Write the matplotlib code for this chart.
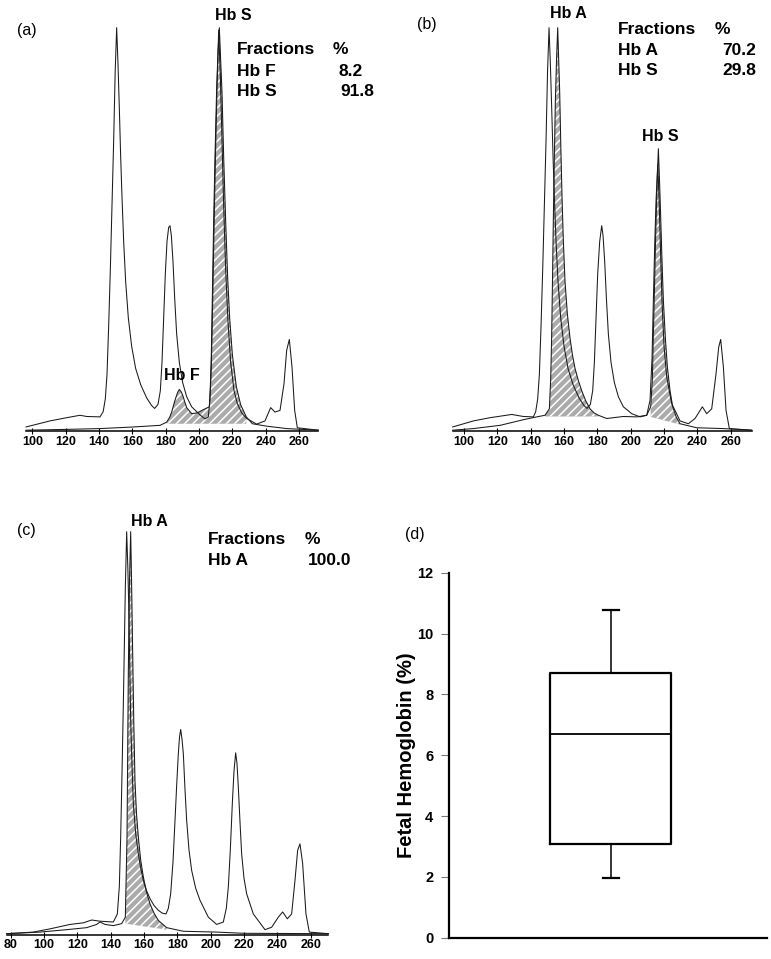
import matplotlib
matplotlib.use('Agg')
import matplotlib.pyplot as plt
import numpy as np

plt.rcParams['font.family'] = ['Liberation Sans', 'DejaVu Sans']
plt.rcParams['hatch.linewidth'] = 1.1

# ---- panel (a): HbS/HbF sample, traces ----
a_ref_x = [96.2, 110.6, 120.6, 128.6, 132.6, 140.6, 142.5, 143.8, 144.8, 145.8, 146.8, 147.8, 148.8,
           149.7, 150.6, 151.4, 152.2, 153.0, 153.8, 154.8, 156.0, 157.6, 159.6, 162.0, 165.0, 168.6,
           171.6, 173.4, 175.4, 176.8, 177.8, 178.8, 179.8, 180.8, 181.8, 182.6, 183.4, 184.4, 185.4,
           186.6, 188.2, 190.2, 192.6, 195.6, 200.6, 203.6, 205.6, 206.6, 207.4, 208.2, 209.0, 209.8,
           210.8, 211.8, 212.8, 213.8, 214.8, 216.0, 217.4, 219.0, 221.0, 223.0, 225.6, 228.6, 234.6,
           239.6, 243.0, 245.6, 248.6, 251.0, 252.6, 254.2, 255.8, 257.4, 259.0, 271.6]
a_ref_y = [1.0, 2.5, 3.3, 3.9, 3.6, 3.5, 4.8, 8, 14, 26, 40, 56, 72,
           89, 100, 91, 80, 68, 58, 47, 37, 28, 21, 15.5, 11.5, 8.2,
           6.3, 5.6, 6.6, 10, 17, 28, 39, 47, 50.5, 50.9, 48.5, 42, 33,
           24, 17, 12, 8.5, 6, 4, 3, 3.5, 8, 16, 32, 50, 67,
           85, 99.4, 88, 72, 56, 40, 27, 17, 10, 6.8, 4.5, 3.1, 1.7,
           2.5, 5.8, 4.7, 5.1, 11.7, 20, 22.7, 15.9, 5.1, 0.8, 0.2]
a_hb_x = [96.2, 120.6, 140.6, 160.6, 176.6, 180.6, 182.4, 183.6, 185.0, 186.2, 187.2, 188.2, 189.2,
          190.2, 191.4, 192.6, 195.6, 199.0, 202.6, 206.2, 206.8, 207.4, 208.0, 208.8, 209.6, 210.6,
          211.4, 212.2, 213.0, 213.8, 214.8, 216.0, 217.2, 218.4, 220.0, 222.4, 225.0, 228.4, 232.0,
          240.6, 252.6, 271.6]
a_hb_y = [0.2, 0.4, 0.6, 1.0, 1.4, 2.2, 3.4, 4.7, 6.8, 8.4, 9.6, 10.3, 9.8,
          8.9, 7.3, 5.8, 4.3, 4.5, 5.3, 6.0, 11, 19, 33, 52, 68, 85,
          94, 100, 92, 84, 68, 52, 38, 28, 19, 11, 6.5, 3.5, 1.8,
          1.2, 0.6, 0.2]
a_shade = [(180.6, 228.4, 1.8, 1.8)]
a_fractions = ['Hb F', 'Hb S']
a_percent = ['8.2', '91.8']

# ---- panel (b): HbA/HbS sample ----
b_ref_x = [93.2, 105.6, 115.6, 128.6, 135.6, 141.6, 143.0, 144.2, 145.2, 146.2, 147.2, 148.2, 149.2,
           150.1, 151.0, 151.8, 152.6, 153.4, 154.2, 155.2, 156.4, 158.0, 160.0, 162.4, 165.4, 169.0,
           172.0, 173.8, 175.8, 177.2, 178.2, 179.2, 180.2, 181.4, 182.6, 183.4, 184.4, 185.4, 186.6,
           188.2, 190.2, 192.6, 195.6, 200.6, 205.6, 209.6, 211.6, 212.8, 213.6, 214.4, 215.2, 216.2,
           217.0, 217.8, 218.8, 220.0, 221.6, 224.6, 229.6, 234.6, 238.6, 243.0, 245.6, 248.6, 251.2,
           252.8, 254.0, 255.6, 257.2, 259.2, 272.6]
b_ref_y = [1.0, 2.5, 3.3, 4.1, 3.6, 3.5, 4.8, 8, 14, 26, 40, 56, 72,
           89, 100, 91, 80, 68, 58, 47, 37, 28, 21, 15.5, 11.5, 8.2,
           6.3, 5.6, 6.6, 10, 17, 28, 39, 47, 50.9, 48.5, 42, 33, 24,
           17, 12, 8.5, 6, 4.3, 3.5, 3.9, 7.6, 18, 32.4, 46, 57, 66,
           58, 46, 32, 21, 13.4, 6.8, 2.5, 1.8, 3.1, 6.0, 4.3, 5.5, 14.2,
           20.8, 22.7, 15.9, 5.1, 0.6, 0.2]
b_hb_x = [93.2, 105.6, 121.6, 135.6, 143.6, 148.6, 151.2, 152.0, 152.6, 153.1, 153.6, 154.2, 154.8,
          155.5, 156.2, 157.4, 158.1, 158.8, 159.6, 160.6, 162.0, 163.6, 165.0, 166.6, 168.6, 170.6,
          173.0, 175.6, 178.0, 180.6, 185.6, 195.6, 203.6, 209.6, 212.0, 213.0, 213.6, 214.3, 215.0,
          215.8, 216.6, 217.3, 218.0, 218.8, 219.6, 220.8, 222.0, 223.6, 225.2, 227.4, 229.6, 239.6,
          255.6, 272.6]
b_hb_y = [0.2, 0.6, 1.4, 2.8, 3.5, 3.9, 5.5, 13, 24, 38, 53, 68, 82,
          92, 100, 84, 70, 58, 47, 37, 29, 23, 19, 15.5, 12.5, 10,
          7.5, 5.5, 4.5, 3.9, 3.1, 3.6, 3.5, 3.9, 6.0, 13, 24, 36, 49,
          61, 70, 62, 53, 42, 32.4, 23, 15.9, 10, 6.0, 3.4, 1.8, 0.8,
          0.6, 0.2]
b_shade = [(148.6, 180.6, 3.6, 3.6), (212.0, 229.6, 3.5, 1.6)]
b_fractions = ['Hb A', 'Hb S']
b_percent = ['70.2', '29.8']

# ---- panel (c): normal HbA sample ----
c_ref_x = [77.6, 93.6, 103.6, 115.6, 123.6, 128.6, 133.6, 141.6, 144.0, 145.2, 146.0, 146.8, 147.6,
           148.3, 148.8, 149.6, 150.3, 150.8, 151.4, 152.0, 152.8, 153.6, 155.0, 156.6, 158.0, 159.6,
           161.6, 163.6, 166.0, 168.6, 171.0, 173.2, 174.6, 176.0, 177.4, 178.6, 179.6, 180.6, 181.3,
           182.0, 182.8, 183.6, 184.6, 185.6, 187.0, 188.6, 191.0, 193.6, 198.6, 203.6, 207.6, 209.4,
           210.6, 211.8, 213.0, 214.0, 215.0, 215.8, 216.6, 217.6, 218.6, 220.0, 221.6, 225.6, 232.6,
           236.6, 240.6, 243.2, 246.0, 248.6, 250.6, 252.2, 253.6, 255.2, 257.2, 259.2, 270.6]
c_ref_y = [0.2, 0.6, 1.4, 2.5, 2.9, 3.6, 3.3, 3.1, 5.1, 12, 24.2, 40, 57.3,
           74, 86.3, 100, 91, 82.2, 68, 53.2, 42, 32.5, 25, 20, 16.5, 13.4,
           10.8, 8.9, 7.2, 6.0, 5.3, 5.1, 6.5, 10.1, 18, 28.3, 37, 44.9, 49,
           50.9, 48.5, 44.9, 36, 28.3, 21, 15.9, 11.5, 8.5, 4.3, 2.5, 3.1, 6.5,
           11.8, 21, 32.5, 40.5, 45.1, 42.5, 36.6, 28, 20, 14, 10.1, 5.1, 1.2,
           1.8, 4.3, 5.6, 3.9, 5.1, 13.4, 20.9, 22.5, 17.6, 5.1, 0.6, 0.2]
c_hb_x = [77.6, 97.6, 113.6, 125.6, 131.6, 133.6, 136.6, 141.6, 146.6, 148.8, 149.8, 150.6, 151.3,
          152.0, 152.6, 153.2, 153.9, 154.6, 155.5, 156.6, 158.0, 159.6, 161.5, 163.6, 166.0, 168.6,
          173.6, 183.6, 203.6, 219.6, 270.6]
c_hb_y = [0.2, 0.6, 1.2, 1.7, 2.5, 3.1, 2.5, 2.2, 2.7, 4.3, 24.2, 65.6, 88,
          100, 86, 70, 52, 38, 30, 24.2, 18.5, 14.3, 10.5, 7.6, 5.3, 3.5,
          1.7, 0.8, 0.6, 0.3, 0.2]
c_shade = [(148.8, 173.6, 2.7, 1.2)]
c_fractions = ['Hb A']
c_percent = ['100.0']

# ---- panel (d): fetal hemoglobin box plot ----
hbf_low, hbf_q1, hbf_med, hbf_q3, hbf_high = 1.97, 3.07, 6.71, 8.69, 10.78

W, H = 771, 959
fig = plt.figure(figsize=(W / 100, H / 100), dpi=100)
fig.patch.set_facecolor('white')


def px_axes(left, top, right, bottom):
    # pixel box -> figure fraction axes
    return fig.add_axes([left / W, 1 - bottom / H, (right - left) / W, (bottom - top) / H])


def put(x, y, s, **kw):
    fig.text(x / W, 1 - y / H, s, **kw)


def trace_panel(ax, ref_x, ref_y, hb_x, hb_y, shades, ticks, xlim):
    hb_x = np.array(hb_x)
    hb_y = np.array(hb_y)
    for lo, hi, b0, b1 in shades:
        m = (hb_x >= lo) & (hb_x <= hi)
        base = np.interp(hb_x, [lo, hi], [b0, b1])
        ax.fill_between(hb_x, base, hb_y, where=m, facecolor='#ababab', edgecolor='white',
                        hatch='////', linewidth=0, zorder=1)
    ax.plot(ref_x, ref_y, color='#1a1a1a', lw=0.75, clip_on=False, zorder=3)
    ax.plot(hb_x, hb_y, color='#1a1a1a', lw=0.75, clip_on=False, zorder=3)
    ax.set_xlim(xlim)
    ax.set_ylim(0, 100)
    for s in ['top', 'right', 'left']:
        ax.spines[s].set_visible(False)
    ax.spines['bottom'].set_linewidth(1.1)
    ax.set_yticks([])
    ax.set_xticks(ticks)
    ax.tick_params(axis='x', direction='inout', length=4, width=0.8, labelsize=9, pad=1.5)
    for t in ax.get_xticklabels():
        t.set_fontweight('bold')
    ax.patch.set_alpha(0)


lab = dict(fontsize=11.5, fontweight='bold', ha='center', va='center')
tab = dict(fontsize=12.5, fontweight='bold', ha='left', va='center')
pan = dict(fontsize=11.5, ha='left', va='center')

# (a)
ax_a = px_axes(26, 27.7, 318, 431)
trace_panel(ax_a, a_ref_x, a_ref_y, a_hb_x, a_hb_y, a_shade, list(range(100, 261, 20)), (96.2, 271.4))
put(17, 30, '(a)', **pan)
put(233, 15, 'Hb S', **lab)
put(181.7, 376, 'Hb F', **lab)
put(236.7, 50, 'Fractions', **tab)
put(333, 50, '%', **tab)
for i, (f, p) in enumerate(zip(a_fractions, a_percent)):
    put(236.7, 71 + 20.5 * i, f, **tab)
    put(374 - 11 * (len(a_fractions) - 1 - i), 71 + 20.5 * i, p, fontsize=12.5, fontweight='bold',
        ha='right', va='center')

# (b)
ax_b = px_axes(452.7, 27.7, 751.7, 431)
trace_panel(ax_b, b_ref_x, b_ref_y, b_hb_x, b_hb_y, b_shade, list(range(100, 261, 20)), (93.2, 272.6))
put(416.7, 25, '(b)', **pan)
put(568.3, 14, 'Hb A', **lab)
put(660, 136.7, 'Hb S', **lab)
put(618.3, 30, 'Fractions', **tab)
put(715, 30, '%', **tab)
for i, (f, p) in enumerate(zip(b_fractions, b_percent)):
    put(618.3, 50.7 + 20 * i, f, **tab)
    put(756.5, 50.7 + 20 * i, p, fontsize=12.5, fontweight='bold', ha='right', va='center')

# (c)
ax_c = px_axes(6.7, 531.7, 328.3, 934.5)
trace_panel(ax_c, c_ref_x, c_ref_y, c_hb_x, c_hb_y, c_shade, list(range(80, 261, 20)), (77.6, 270.6))
put(16.7, 530, '(c)', **pan)
put(149, 521.7, 'Hb A', **lab)
put(208.3, 540, 'Fractions', **tab)
put(305, 540, '%', **tab)
for i, (f, p) in enumerate(zip(c_fractions, c_percent)):
    put(208.3, 560.7 + 20 * i, f, **tab)
    put(351.7, 560.7 + 20 * i, p, fontsize=12.5, fontweight='bold', ha='right', va='center')

# (d)
ax_d = px_axes(449.3, 572.7, 766.7, 937.7)
stats = [dict(whislo=hbf_low, q1=hbf_q1, med=hbf_med, q3=hbf_q3, whishi=hbf_high, fliers=[])]
ax_d.bxp(stats, positions=[0.5085], widths=0.383, capwidths=0.05, showfliers=False,
         boxprops=dict(color='black', linewidth=1.6),
         medianprops=dict(color='black', linewidth=1.3),
         whiskerprops=dict(color='black', linewidth=1.1),
         capprops=dict(color='black', linewidth=1.6))
ax_d.set_xlim(0, 1)
ax_d.set_ylim(0, 12)
ax_d.set_yticks(range(0, 13, 2))
ax_d.set_xticks([])
for s in ['top', 'right']:
    ax_d.spines[s].set_visible(False)
for s in ['left', 'bottom']:
    ax_d.spines[s].set_linewidth(1.6)
ax_d.tick_params(axis='y', direction='out', length=5.5, width=0.8, color='#777777',
                 labelsize=10.5, pad=6)
for t in ax_d.get_yticklabels():
    t.set_fontweight('bold')
ax_d.patch.set_alpha(0)
put(405, 535, '(d)', **pan)
put(406.7, 755, 'Fetal Hemoglobin (%)', fontsize=14.5, fontweight='bold', rotation=90,
    ha='center', va='center')

fig.savefig('out.png', dpi=100, facecolor='white')
